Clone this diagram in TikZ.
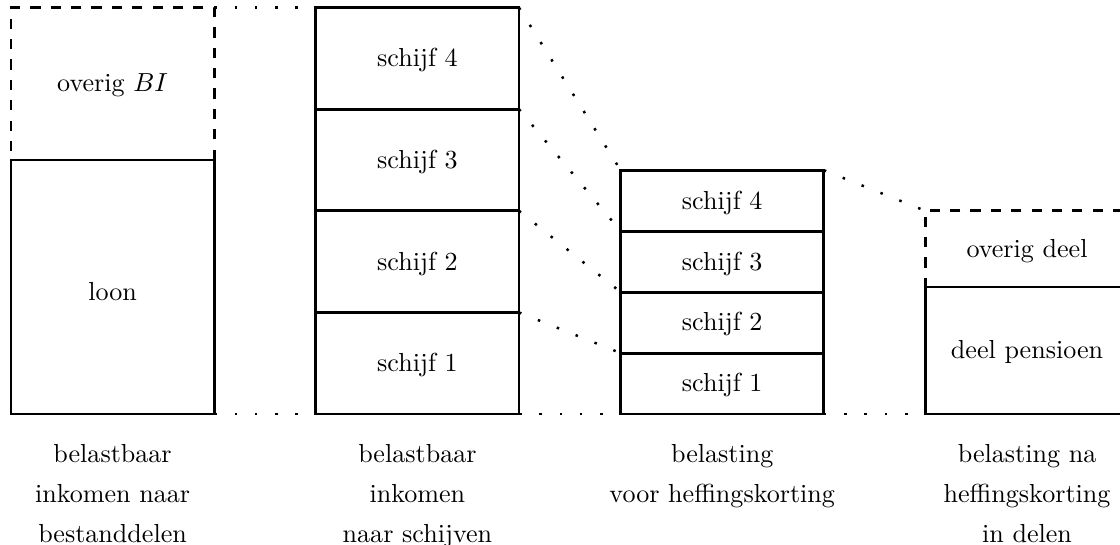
\documentclass[tikz,border=0pt]{standalone}
\begin{document}
\begin{tikzpicture}[
  cell/.style={draw, line width=0.8pt, minimum width=2cm, inner sep=0pt, outer sep=0pt},
  open/.style={cell, dash pattern=on 2.85pt off 2.85pt},
  txt/.style={scale=0.73, inner sep=0pt, yshift=-0.025cm},
  caption/.style={scale=0.73, inner sep=0pt, align=center, anchor=north, font={\fontsize{10}{15.4}\selectfont}},
  link/.style={line width=0.7pt, dash pattern=on 0.7pt off 4.99pt}
]
\clip (-0.108,-1.280) rectangle (10.915,4.075);

% column 1: taxable income by component
\node[cell, minimum height=2.5cm] (b1loon) at (1,1.25) {};
\node[open, minimum height=1.5cm] (b1top) at (1,3.25) {};
\draw[cell] (b1loon.north west) -- (b1loon.north east);
\node[txt, yshift=-0.03cm] (t1loon) at (b1loon) {loon};
\node[txt] (t1top) at (b1top) {overig $BI$};

% column 2: taxable income by bracket
\node[cell, minimum height=1cm] (b2c1) at (4,0.5) {};
\node[cell, minimum height=1cm] (b2c2) at (4,1.5) {};
\node[cell, minimum height=1cm] (b2c3) at (4,2.5) {};
\node[cell, minimum height=1cm] (b2c4) at (4,3.5) {};
\node[txt] (t2c1) at (b2c1) {schijf 1};
\node[txt] (t2c2) at (b2c2) {schijf 2};
\node[txt] (t2c3) at (b2c3) {schijf 3};
\node[txt] (t2c4) at (b2c4) {schijf 4};

% column 3: tax before credit
\node[cell, minimum height=0.6cm] (b3c1) at (7,0.3) {};
\node[cell, minimum height=0.6cm] (b3c2) at (7,0.9) {};
\node[cell, minimum height=0.6cm] (b3c3) at (7,1.5) {};
\node[cell, minimum height=0.6cm] (b3c4) at (7,2.1) {};
\node[txt] (t3c1) at (b3c1) {schijf 1};
\node[txt] (t3c2) at (b3c2) {schijf 2};
\node[txt] (t3c3) at (b3c3) {schijf 3};
\node[txt] (t3c4) at (b3c4) {schijf 4};

% column 4: tax after credit
\node[cell, minimum height=1.25cm] (b4pen) at (10,0.625) {};
\node[open, minimum height=0.75cm] (b4top) at (10,1.625) {};
\draw[cell] (b4pen.north west) -- (b4pen.north east);
\node[txt] (t4pen) at (b4pen) {deel pensioen};
\node[txt] (t4top) at (b4top) {overig deel};

% dotted links between the columns
\draw[link] (b1top.north east) -- (b2c4.north west);
\draw[link] (b1loon.south east) -- (b2c1.south west);
\draw[link] (b2c4.north east) -- (b3c4.north west);
\draw[link] (b2c3.north east) -- (b3c3.north west);
\draw[link] (b2c2.north east) -- (b3c2.north west);
\draw[link] (b2c1.north east) -- (b3c1.north west);
\draw[link] (b2c1.south east) -- (b3c1.south west);
\draw[link] (b3c4.north east) -- (b4top.north west);
\draw[link] (b3c1.south east) -- (b4pen.south west);

% captions
\node[caption] (c1) at (1,-0.29) {belastbaar\\inkomen naar\\bestanddelen};
\node[caption] (c2) at (4,-0.29) {belastbaar\\inkomen\\naar schijven};
\node[caption] (c3) at (7,-0.29) {belasting\\voor heffingskorting};
\node[caption] (c4) at (10,-0.29) {belasting na\\heffingskorting\\in delen};
\end{tikzpicture}
\end{document}
